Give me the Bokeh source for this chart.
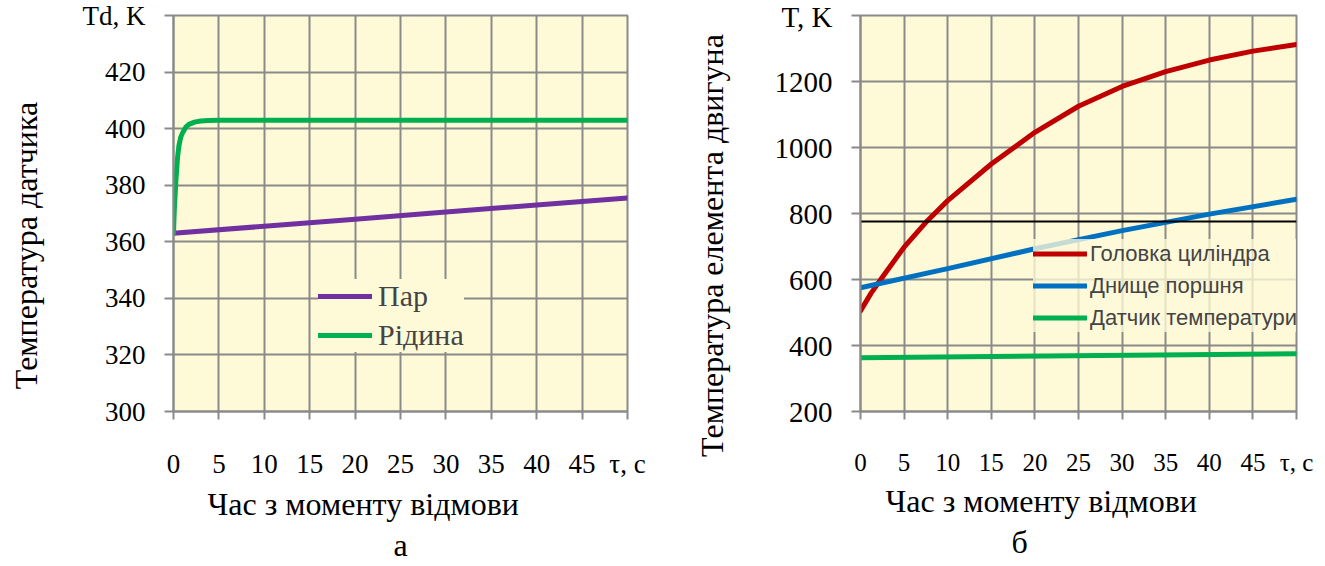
import math
from bokeh.plotting import figure
from bokeh.models import Range1d, FixedTicker, Legend, LegendItem, Title
from bokeh.layouts import row
from bokeh.embed import file_html
from bokeh.resources import INLINE

# ---------------- data ----------------
x_ticks = [0, 5, 10, 15, 20, 25, 30, 35, 40, 45, 50]

# Panel a: sensor temperature
left_y_ticks = [300, 320, 340, 360, 380, 400, 420, 440]
left_y_labels = {440: "Td, K"}

t_steam = [0, 10, 20, 30, 40, 50]
T_steam = [363, 365.5, 368, 370.5, 373, 375.5]

t_liquid = [0, 0.05, 0.1, 0.25, 0.45, 0.6, 0.8, 1.0, 1.35, 1.7, 2.3, 3.0, 3.8, 5, 10, 20, 30, 40, 50]
T_liquid = [363, 368, 372, 381, 390, 394, 397, 398.5, 400.5, 401.5, 402.3, 402.7, 402.9, 403, 403, 403, 403, 403, 403]

# Panel b: engine element temperature
right_y_ticks = [200, 400, 600, 800, 1000, 1200, 1400]
right_y_labels = {1400: "T, K"}

t_head = [0, 1.2, 2.5, 5, 7.7, 10, 15, 20, 25, 30, 35, 40, 45, 50]
T_head = [505, 558, 607, 698, 779, 839, 950, 1046, 1125, 1185, 1230, 1265, 1292, 1312]

t_piston = [0, 10, 20, 30, 40, 50]
T_piston = [575, 633, 693, 748, 798, 843]

t_sensor = [0, 50]
T_sensor = [363, 375]

t_limit = [0, 50]
T_limit = [776, 776]

# ---------------- styles ----------------
GRID = "#8a8a8a"
BG = "#FEFAD8"
SERIF = "Liberation Serif"
SANS = "Liberation Sans"
HAS_STANDOFF = "standoff" in Title.properties()
NB = "\u00a0" * 8  # keeps the vertical axis titles a little below the frame centre


def style(p, yticks, ylabels, xfs, yfs):
    p.background_fill_color = BG
    p.border_fill_color = "white"
    p.outline_line_color = GRID
    p.outline_line_width = 2
    p.xaxis.ticker = FixedTicker(ticks=x_ticks)
    p.yaxis.ticker = FixedTicker(ticks=yticks)
    p.xgrid.ticker = FixedTicker(ticks=x_ticks)
    p.ygrid.ticker = FixedTicker(ticks=yticks)
    for g in (p.xgrid, p.ygrid):
        g.grid_line_color = GRID
        g.grid_line_width = 2
    p.xaxis.major_label_overrides = {50: "τ, c"}
    p.yaxis.major_label_overrides = ylabels
    for ax, fs, out, so in ((p.xaxis, xfs, 8, 29), (p.yaxis, yfs, 9, 19)):
        ax.axis_line_color = GRID
        ax.axis_line_width = 2
        ax.major_tick_line_color = GRID
        ax.major_tick_line_width = 2
        ax.major_tick_out = out
        ax.major_tick_in = 0
        ax.minor_tick_line_color = None
        ax.major_label_text_font = SERIF
        ax.major_label_text_font_size = fs
        ax.major_label_text_color = "black"
        ax.major_label_standoff = so


def ytitle(p, text, standoff):
    p.yaxis.axis_label = text + NB
    p.yaxis.axis_label_text_font = SERIF
    p.yaxis.axis_label_text_font_size = "32px"
    p.yaxis.axis_label_text_font_style = "normal"
    p.yaxis.axis_label_text_color = "black"
    p.yaxis.axis_label_standoff = standoff


def title(p, text, side, offset, size, standoff):
    kw = dict(text=text, align="left", offset=offset, text_font=SERIF,
              text_font_size=size, text_font_style="normal", text_color="black")
    if HAS_STANDOFF:
        kw["standoff"] = standoff
    p.add_layout(Title(**kw), side)


# ---------------- panel a ----------------
p1 = figure(width=690, height=566, x_range=Range1d(0, 50), y_range=Range1d(300, 440),
            output_backend="svg", toolbar_location=None,
            min_border_left=173, min_border_right=63, min_border_top=15, min_border_bottom=155)
style(p1, left_y_ticks, left_y_labels, "27px", "27px")

r_steam = p1.line(t_steam, T_steam, line_color="#7030A0", line_width=5, line_cap="round")
r_liq = p1.line(t_liquid, T_liquid, line_color="#00B050", line_width=5, line_cap="round",
                line_join="round")

leg1 = Legend(items=[LegendItem(label="Пар", renderers=[r_steam]),
                     LegendItem(label="Рідина", renderers=[r_liq])],
              location=(145, 59), background_fill_color=BG, background_fill_alpha=1.0,
              border_line_color=None, padding=6, spacing=5, glyph_width=54, glyph_height=28,
              label_height=28, label_standoff=6, label_text_font=SERIF,
              label_text_font_size="30px", margin=0)
p1.add_layout(leg1, "center")

ytitle(p1, "Температура датчика", 36)
title(p1, "Час з моменту відмови", "below", 34, "32px", 5)
title(p1, "а", "below", 220, "32px", 0)

# ---------------- panel b ----------------
p2 = figure(width=635, height=566, x_range=Range1d(0, 50), y_range=Range1d(200, 1400),
            output_backend="svg", toolbar_location=None,
            min_border_left=170, min_border_right=29, min_border_top=15, min_border_bottom=155)
style(p2, right_y_ticks, right_y_labels, "25px", "29px")

r_head = p2.line(t_head, T_head, line_color="#C00000", line_width=5, line_cap="round",
                 line_join="round")
r_pist = p2.line(t_piston, T_piston, line_color="#0070C0", line_width=5, line_cap="round")
r_sens = p2.line(t_sensor, T_sensor, line_color="#00B050", line_width=5, line_cap="round")
p2.line(t_limit, T_limit, line_color="black", line_width=2)

leg2 = Legend(items=[LegendItem(label="Головка циліндра", renderers=[r_head]),
                     LegendItem(label="Днище поршня", renderers=[r_pist]),
                     LegendItem(label="Датчик температури", renderers=[r_sens])],
              location=(173, 79), background_fill_color=BG, background_fill_alpha=0.78,
              border_line_color=None, padding=5, spacing=3, glyph_width=54, glyph_height=29,
              label_height=29, label_standoff=3, label_text_font=SANS,
              label_text_font_size="22px", margin=0)
p2.add_layout(leg2, "center")

ytitle(p2, "Температура елемента двигуна", 42)
title(p2, "Час з моменту відмови", "below", 25, "32px", 5)
title(p2, "б", "below", 151, "32px", 0)

layout = row(p1, p2, spacing=0)
open("out.html", "w").write(file_html(layout, INLINE))
